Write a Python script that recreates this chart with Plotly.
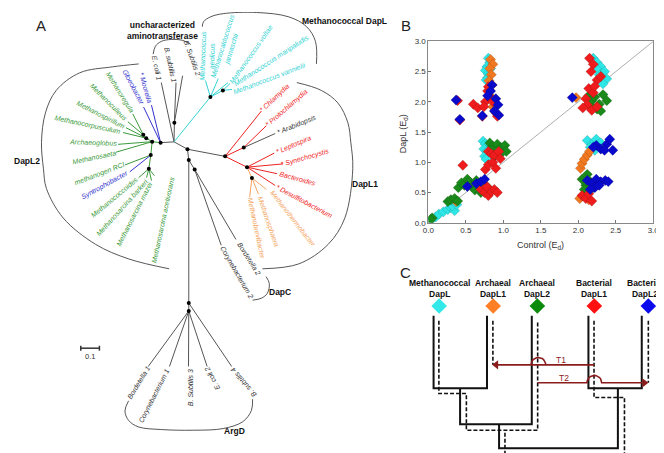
import math
import plotly.graph_objects as go

W, H = 664, 453
FONT = "Arial, Liberation Sans, sans-serif"

# ---------------- Panel B data ----------------
series_names = ["Methanococcal DapL", "Archaeal DapL1", "Archaeal DapL2", "Bacterial DapL1", "Bacterial DapL2"]
series_colors = ["#2ee6e6", "#f07820", "#1a8a1a", "#ee1c1c", "#0a0acc"]

cyan_x = [0.80, 0.82, 0.78, 0.76, 0.80, 0.83, 0.79, 0.77, 0.73, 0.76, 0.74, 0.78, 0.75, 0.77,
          0.05, 0.10, 0.14, 0.20, 0.26, 0.30, 0.35, 0.32, 0.38,
          2.20, 2.25, 2.30, 2.35, 2.28, 2.38, 2.33, 2.24, 2.12, 2.18, 2.24, 2.30, 2.16, 2.22]
cyan_y = [2.72, 2.65, 2.58, 2.52, 2.46, 2.55, 2.40, 2.36, 1.35, 1.30, 1.22, 1.18, 1.10, 1.05,
          0.06, 0.10, 0.14, 0.18, 0.22, 0.25, 0.20, 0.28, 0.30,
          2.72, 2.65, 2.58, 2.50, 2.45, 2.38, 2.30, 2.55, 1.36, 1.30, 1.38, 1.32, 1.25, 1.20]

orange_x = [0.83, 0.86, 0.82, 0.84, 0.81, 0.85, 0.84, 0.86, 0.37, 1.97,
            2.03, 2.05, 2.08, 2.12, 2.15, 2.02, 2.06, 2.10, 2.14]
orange_y = [2.70, 2.62, 2.55, 2.45, 2.35, 2.28, 2.08, 1.92, 0.35, 2.07,
            0.90, 0.98, 1.05, 1.12, 1.18, 0.40, 0.45, 0.50, 0.38]

green_x = [0.82, 0.86, 0.92, 0.97, 1.02, 1.04, 0.95, 0.88, 0.84,
           0.40, 0.44, 0.48, 0.52, 0.55, 0.58, 0.62, 0.66, 0.70, 0.74, 0.78, 0.64,
           0.26, 0.30, 0.35, 0.39, 0.05, 0.03,
           2.14, 2.18, 2.22, 2.28, 2.33, 2.38, 2.25, 2.20, 2.30,
           2.05, 2.10, 2.12, 2.16, 2.20, 2.08]
green_y = [1.32, 1.26, 1.30, 1.24, 1.28, 1.18, 1.12, 1.10, 1.20,
           0.58, 0.66, 0.62, 0.72, 0.68, 0.60, 0.54, 0.64, 0.50, 0.56, 0.60, 0.70,
           0.35, 0.38, 0.40, 0.36, 0.08, 0.05,
           2.10, 2.02, 2.08, 1.96, 2.12, 2.02, 1.88, 1.90, 1.85,
           0.72, 0.62, 0.80, 0.68, 0.58, 0.55]

red_x = [0.39, 0.42, 0.60, 0.66, 0.72, 0.76, 0.79, 0.82, 0.86, 0.90, 0.92, 0.74, 0.80,
         0.46, 0.76, 0.80, 0.86, 0.90, 0.80, 0.84, 0.88, 0.94, 0.96,
         0.70, 0.75, 0.80, 0.84, 0.88, 0.92, 0.78,
         2.15, 2.20, 2.17, 2.25, 2.30, 2.14, 2.20, 2.10, 2.12, 2.18, 2.25, 2.06, 2.22,
         2.05, 2.10, 2.14, 2.18]
red_y = [2.02, 1.70, 1.96, 1.90, 1.76, 2.00, 2.18, 2.08, 2.00, 1.82, 1.76, 1.92, 2.25,
         0.95, 0.88, 0.96, 1.00, 0.90, 1.18, 1.14, 1.12, 1.18, 1.06,
         0.55, 0.50, 0.45, 0.52, 0.55, 0.50, 0.60,
         2.72, 2.62, 2.50, 2.36, 2.42, 2.22, 2.15, 2.05, 1.95, 1.86, 1.92, 1.90, 2.26,
         0.45, 0.40, 0.48, 0.36]

blue_x = [0.37, 0.42, 0.72, 0.85, 0.83, 0.79, 0.90, 0.93, 0.88, 0.94,
          0.52, 0.64, 0.70, 0.75, 1.92,
          2.24, 2.30, 2.38, 2.42, 2.35, 2.20, 2.46,
          2.12, 2.18, 2.24, 2.30, 2.36, 2.22, 2.16, 2.28, 2.40]
blue_y = [2.03, 1.71, 1.77, 2.28, 2.18, 2.10, 2.05, 1.95, 1.85, 1.78,
          0.60, 0.65, 0.68, 0.72, 2.07,
          1.28, 1.22, 1.30, 1.38, 1.20, 1.25, 1.20,
          0.70, 0.65, 0.72, 0.68, 0.70, 0.58, 0.55, 0.62, 0.68]

b_tickvals = [0.0, 0.5, 1.0, 1.5, 2.0, 2.5, 3.0]
b_ticktext = ["0.0", "0.5", "1.0", "1.5", "2.0", "2.5", "3.0"]

# ---------------- Panel C ----------------
c_headers = ["Methanococcal<br>DapL", "Archaeal<br>DapL1", "Archaeal<br>DapL2",
             "Bacterial<br>DapL1", "Bacterial<br>DapL2"]
c_header_x = [433, 488, 533, 591, 646]
c_diamond_colors = ["#33e8e8", "#ff7f27", "#0c8a0c", "#ff1111", "#0b0bee"]

# ---------------- Panel A (tree) ----------------
TG = "#3a9a3a"; TB = "#3333cc"; TC = "#33d3d3"; TR = "#ee2222"; TO = "#f4a460"; TK = "#333333"
LINE = "#555555"

C0 = (163, 132.5); nA = (149.3, 133.3); nB = (140.7, 132.3); nD = (134.7, 128.7); nE = (131.7, 125.3)
nF = (139.3, 146); nG = (137.3, 160); nU = (163.3, 113); nM1 = (200, 86.7); nM2 = (212.7, 80)
nK = (176.7, 140); nL = (215, 147.3); nL2 = (234, 138.3); nL3 = (237.3, 158.3); nL4 = (242.3, 169.3)
nV = (178, 151); nC = (184, 160.7); nR1 = (178, 297); nR2 = (178, 305)

segments = {
    LINE: [(nA, C0), (C0, nK), (nK, nL), (nK, nV), (nV, nC), (nV, nR1), (nR1, nR2),
           (C0, (150, 72)), (C0, nU), (nU, (165, 72)), (nU, (171.7, 65)),
           (nC, (226, 232)), (nC, (211, 238)),
           (nR2, (136.7, 361.7)), (nR2, (158.3, 361.7)), (nR2, (177.7, 361.7)), (nR2, (196.7, 361.7)),
           (nR1, (221.7, 361.7)), (nL2, (266, 124))],
    TC: [(C0, nM1), (nM1, (195, 70)), (nM1, (208, 68)), (nM1, (218, 72)), (nM1, nM2),
         (nM2, (220, 73)), (nM2, (222, 79))],
    TG: [(nA, nB), (nB, nD), (nD, nE), (nE, (121, 104)), (nE, (116, 112)), (nD, (114, 118)),
         (nD, (111, 123)), (nB, (106, 135)), (nB, (104, 143)), (nB, nF), (nF, (113, 156)),
         (nF, nG), (nG, (127, 169)), (nG, (135, 169)), (nG, (140, 172)), (nG, (143, 167))],
    TB: [(nA, (140, 95)), (nA, (132, 97)), (nF, (118, 163))],
    TR: [(nL, (252, 101)), (nL, nL2), (nL2, (257, 116)), (nL, nL3), (nL3, (265, 144)),
         (nL3, (274, 155)), (nL3, (268, 165)), (nL3, (266, 177))],
    TO: [(nL3, nL4), (nL4, (257, 181)), (nL4, (249, 186)), (nL4, (240, 189))],
}
nodes = [nA, nB, nD, nE, nF, nG, nU, nM1, nM2, nK, nV, nC, nL, nL2, nL3, nL4, nR1, nR2]

# leaf labels: name, colour, centre x, centre y, text angle
leaves = [
    ("E. coli 1", TK, 145, 57, 78), ("B. subtilis 1", TK, 159, 54, 78), ("B. Subtilis 2", TK, 182, 47, 70),
    ("Methanococcus<br>aeolicus", TC, 197, 44, -88), ("Methanocaldococcus<br>jannaschii", TC, 217, 36, -73),
    ("Methanococcus voltae", TC, 241, 43, -55), ("Methanococcus maripaludis", TC, 262, 50, -33),
    ("Methanococcus vannielii", TC, 260, 68, -21),
    ("* Moorella", TB, 134, 77, 74), ("Gloeobacter", TB, 122, 77, 62),
    ("Methanoregula", TG, 107, 82, 58), ("Methanoculleus", TG, 97, 92, 45),
    ("Methanospirillum", TG, 88, 105, 27), ("Methanocorpusculum", TG, 75, 115, 12),
    ("Archaeoglobus", TG, 80, 134, 2), ("Methanosaeta", TG, 81, 148, -12),
    ("methanogen RCI", TG, 87, 165, -21), ("Syntrophobacter", TB, 93, 177, -29),
    ("Methanococcoides", TG, 102, 189, -40), ("Methanosarcina barkeri", TG, 110, 199, -48),
    ("Methanosarcina mazei", TG, 123, 206, -63), ("Methanosarcina acetivorans", TG, 152, 212, -78),
    ("* Chlamydia", TR, 266, 88, -43), ("* Protochlamydia", TR, 278, 98, -41),
    ("* Arabidopsis", TK, 288, 115, -22), ("* Leptospira", TR, 285, 136, -23),
    ("* Synechocystis", TR, 296, 149, -16), ("Bacteroides", TR, 289, 170, 15),
    ("* Desulfitobacterium", TR, 296, 193, 28),
    ("Methanothermobacter", TO, 284, 211, 52), ("Methanosphaera", TO, 259, 214, 71),
    ("Methanobrevibacter", TO, 247, 221, 78),
    ("Bordetella 2", TK, 239, 252, 58), ("Corynebacterium 2", TK, 227, 266, 60),
    ("Bordetella 1", TK, 127, 378, -59), ("Corynebacterium 1", TK, 143, 392, -63),
    ("B. Subtilis 3", TK, 180, 383, -90), ("E. coli 2", TK, 202, 374, -118),
    ("B. subtilis 4", TK, 234, 378, -130),
]

arcs = [
    [(141.7, 43), (144, 35), (150, 30), (160, 28), (172, 29), (180, 33)],
    [(191.7, 15), (193, 10), (200, 5), (213, 1.7), (247, 0.5), (280, 5), (298, 15), (307, 30), (308, 53)],
    [(288, 72), (313, 80), (330, 93), (340, 113), (343, 133), (345, 160), (337, 210), (320, 237),
     (290, 257), (253, 262)],
    [(127, 53), (100, 56), (67, 62), (43, 80), (32, 103), (28, 133), (30, 160), (33, 180), (50, 210),
     (83, 237), (117, 252), (158, 262)],
    [(256.7, 270), (260, 277), (258, 287), (252, 292), (243, 294)],
    [(116.7, 396.7), (113, 407), (116.7, 416.7), (126.7, 423.3), (150, 426), (183, 426.7), (213, 425),
     (233, 418), (241.7, 406.7), (243, 395)],
]

group_labels = [
    ("uncharacterized<br>aminotransferase", 151, 19), ("Methanococcal DapL", 337, 9),
    ("DapL1", 357, 175), ("DapL2", 13, 152), ("DapC", 271, 286), ("ArgD", 225, 427),
]

fig = go.Figure()

# tree segments
for col, segs in segments.items():
    xs, ys = [], []
    for (a, b) in segs:
        xs += [a[0], b[0], None]
        ys += [a[1], b[1], None]
    fig.add_trace(go.Scatter(x=xs, y=ys, mode="lines", line=dict(color=col, width=1),
                             xaxis="x", yaxis="y", hoverinfo="skip", showlegend=False))
for arc in arcs:
    fig.add_trace(go.Scatter(x=[p[0] for p in arc], y=[p[1] for p in arc], mode="lines",
                             line=dict(color="#444", width=0.9, shape="spline"),
                             xaxis="x", yaxis="y", hoverinfo="skip", showlegend=False))
fig.add_trace(go.Scatter(x=[n[0] for n in nodes], y=[n[1] for n in nodes], mode="markers",
                         marker=dict(color="black", size=4), xaxis="x", yaxis="y",
                         hoverinfo="skip", showlegend=False))
# scale bar
fig.add_trace(go.Scatter(x=[68, 68, None, 68, 87, None, 87, 87], y=[340.5, 345.5, None, 343, 343, None, 340.5, 345.5],
                         mode="lines", line=dict(color="#333", width=1.5), xaxis="x", yaxis="y",
                         hoverinfo="skip", showlegend=False))

# ---------------- Panel C lines ----------------
solid = [[(427.3, 310), (427.3, 384), (481.7, 384), (481.7, 310)],
         [(454.3, 384), (454.3, 420.7), (527.3, 420.7), (527.3, 310)],
         [(494, 420.7), (494, 445), (615, 445), (615, 384)],
         [(585, 310), (585, 384), (639.3, 384), (639.3, 310)]]
dashed = [[(432.7, 315), (432.7, 389.3), (460.7, 389.3), (460.7, 426.7), (533.3, 426.7), (533.3, 315)],
          [(487.7, 315), (487.7, 360)],
          [(646, 315), (646, 378.3)],
          [(590.7, 315), (590.7, 393.3), (621.7, 393.3), (621.7, 450.7), (500, 450.7), (500, 426.7)]]
for pl in solid:
    fig.add_trace(go.Scatter(x=[p[0] for p in pl], y=[p[1] for p in pl], mode="lines",
                             line=dict(color="#111", width=2), xaxis="x", yaxis="y",
                             hoverinfo="skip", showlegend=False))
for pl in dashed:
    fig.add_trace(go.Scatter(x=[p[0] for p in pl], y=[p[1] for p in pl], mode="lines",
                             line=dict(color="#111", width=1.6, dash="4px,2px"), xaxis="x", yaxis="y",
                             hoverinfo="skip", showlegend=False))


def hump(x0, x1, y, cx, r):
    pts = [(x0, y), (cx - r, y)]
    for i in range(0, 13):
        t = math.pi - i * math.pi / 12
        pts.append((cx + r * math.cos(t), y - r * math.sin(t)))
    pts.append((x1, y))
    return pts


DR = "#8b1c1c"
t1 = hump(590.7, 492, 360, 534, 7.5)[::-1]
t2 = hump(533.3, 640, 378.3, 591, 7.5)
for pl in (t1, t2):
    fig.add_trace(go.Scatter(x=[p[0] for p in pl], y=[p[1] for p in pl], mode="lines",
                             line=dict(color=DR, width=1.6), xaxis="x", yaxis="y",
                             hoverinfo="skip", showlegend=False))
# arrow heads
fig.add_trace(go.Scatter(x=[491, 642], y=[360, 378.3], mode="markers",
                         marker=dict(symbol=["triangle-left", "triangle-right"], size=8, color=DR),
                         xaxis="x", yaxis="y", hoverinfo="skip", showlegend=False))
fig.add_trace(go.Scatter(x=c_header_x, y=[300] * 5, mode="markers",
                         marker=dict(symbol="diamond", size=12, color=c_diamond_colors),
                         xaxis="x", yaxis="y", hoverinfo="skip", showlegend=False))

# ---------------- Panel B traces ----------------
fig.add_trace(go.Scatter(x=[0, 3], y=[0, 3], mode="lines", line=dict(color="#999", width=0.8),
                         xaxis="x2", yaxis="y2", hoverinfo="skip", showlegend=False))
for name, col, xs, ys in zip(series_names, series_colors,
                             [cyan_x, orange_x, green_x, red_x, blue_x],
                             [cyan_y, orange_y, green_y, red_y, blue_y]):
    fig.add_trace(go.Scatter(x=xs, y=ys, mode="markers", name=name,
                             marker=dict(symbol="diamond", size=8, color=col,
                                         line=dict(color="rgba(0,0,0,0.25)", width=0.5)),
                             xaxis="x2", yaxis="y2", showlegend=False))

# ---------------- Annotations ----------------
ann = []
for name, col, cx, cy, ang in leaves:
    ann.append(dict(x=cx, y=cy, xref="x", yref="y", text="<i>" + name + "</i>", showarrow=False,
                    textangle=ang, font=dict(family=FONT, size=7, color=col),
                    xanchor="center", yanchor="middle"))
for txt, cx, cy in group_labels:
    ann.append(dict(x=cx, y=cy, xref="x", yref="y", text="<b>" + txt + "</b>", showarrow=False,
                    font=dict(family=FONT, size=8.5, color="#111"), xanchor="center", yanchor="middle"))
ann.append(dict(x=77.5, y=351, xref="x", yref="y", text="0.1", showarrow=False,
                font=dict(family=FONT, size=7.5, color="#333")))
for lab, cx, cy in [("A", 28, 14), ("B", 399, 14), ("C", 399, 266)]:
    ann.append(dict(x=cx, y=cy, xref="x", yref="y", text=lab, showarrow=False,
                    font=dict(family=FONT, size=15, color="#222")))
for i, (txt, cx) in enumerate(zip(c_headers, c_header_x)):
    last = i == len(c_headers) - 1
    ann.append(dict(x=663 if last else cx, y=282, xref="x", yref="y", text="<b>" + txt + "</b>",
                    showarrow=False, font=dict(family=FONT, size=8.5, color="#111"),
                    xanchor="right" if last else "center", yanchor="middle"))
ann.append(dict(x=557, y=355, xref="x", yref="y", text="T1", showarrow=False,
                font=dict(family=FONT, size=8.5, color=DR)))
ann.append(dict(x=560, y=373, xref="x", yref="y", text="T2", showarrow=False,
                font=dict(family=FONT, size=8.5, color=DR)))
# panel B axis titles
ann.append(dict(x=536, y=238, xref="x", yref="y", text="Control (E<sub>d</sub>)", showarrow=False,
                font=dict(family=FONT, size=9, color="#333")))
ann.append(dict(x=397, y=124, xref="x", yref="y", text="DapL (E<sub>d</sub>)", showarrow=False,
                textangle=-90, font=dict(family=FONT, size=9, color="#333")))

fig.update_layout(
    width=W, height=H, margin=dict(l=0, r=0, t=0, b=0),
    paper_bgcolor="white", plot_bgcolor="white", hovermode=False,
    xaxis=dict(range=[0, W], domain=[0, 1], visible=False, fixedrange=True),
    yaxis=dict(range=[H, 0], domain=[0, 1], visible=False, fixedrange=True),
    xaxis2=dict(domain=[422 / W, 651 / W], range=[0, 3], anchor="y2", tickvals=b_tickvals,
                ticktext=b_ticktext, ticks="inside", ticklen=3, tickcolor="#777", showline=True,
                mirror=True, linecolor="#888", linewidth=1, showgrid=False, zeroline=False,
                tickfont=dict(family=FONT, size=8, color="#333")),
    yaxis2=dict(domain=[1 - 215 / H, 1 - 30 / H], range=[0, 3], anchor="x2", tickvals=b_tickvals,
                ticktext=b_ticktext, ticks="inside", ticklen=3, tickcolor="#777", showline=True,
                mirror=True, linecolor="#888", linewidth=1, showgrid=False, zeroline=False,
                tickfont=dict(family=FONT, size=8, color="#333")),
    annotations=ann,
)
fig.write_html("out.html")
